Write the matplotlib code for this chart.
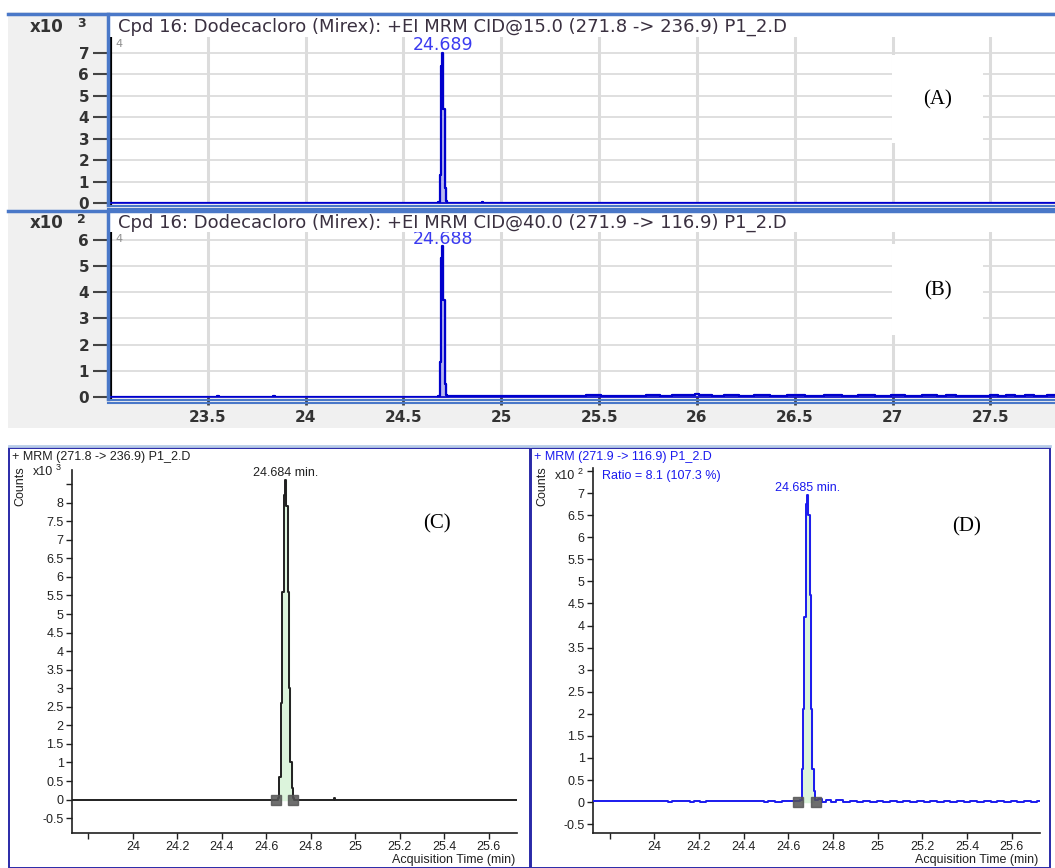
import numpy as np
import matplotlib
matplotlib.use('Agg')
import matplotlib.pyplot as plt
from matplotlib.patches import Rectangle
from matplotlib.lines import Line2D

W, H = 1055, 868

# ---------------- data ----------------
# (A) Cpd 16, CID@15.0 271.8 -> 236.9, counts x10^3
a_time = [23.0, 24.674, 24.681, 24.688, 24.694, 24.701, 24.708, 24.714, 24.721, 24.728,
          24.90, 24.903, 24.906, 27.83]
a_counts = [0, 0, 0.05, 1.3, 6.4, 7.0, 4.4, 0.7, 0.08, 0, 0, 0.06, 0, 0]
a_peak = (2, 9)
a_rt = 24.689

# (B) Cpd 16, CID@40.0 271.9 -> 116.9, counts x10^2
b_time = [23.0, 23.54, 23.55, 23.56, 23.83, 23.84, 23.85, 24.672, 24.681, 24.688, 24.694,
          24.700, 24.707, 24.714, 24.721, 24.728, 24.75, 24.78, 24.80, 24.84, 24.87, 24.90,
          24.95, 24.98, 25.05, 25.10, 25.18, 25.25, 25.33, 25.40, 25.47, 25.55, 25.62,
          25.70, 25.78, 25.84, 25.90, 25.95, 25.98, 26.00, 26.02, 26.05, 26.10, 26.18,
          26.25, 26.33, 26.42, 26.50, 26.60, 26.70, 26.78, 26.87, 26.95, 27.03, 27.10,
          27.20, 27.25, 27.30, 27.35, 27.48, 27.52, 27.56, 27.60, 27.65, 27.70, 27.75, 27.83]
b_counts = [0, 0, 0.04, 0, 0, 0.03, 0, 0, 0.05, 1.35, 5.3, 5.75, 3.7, 0.5, 0.08, 0.03,
            0.04, 0.02, 0.05, 0.02, 0.05, 0.03, 0.05, 0.02, 0.04, 0.02, 0.05, 0.02, 0.05,
            0.03, 0.06, 0.02, 0.05, 0.03, 0.06, 0.03, 0.07, 0.09, 0.06, 0.12, 0.07, 0.09,
            0.04, 0.06, 0.03, 0.06, 0.03, 0.06, 0.03, 0.06, 0.03, 0.06, 0.03, 0.06, 0.03,
            0.08, 0.04, 0.08, 0.03, 0.05, 0.08, 0.05, 0.08, 0.05, 0.08, 0.05, 0.06]
b_peak = (7, 16)
b_rt = 24.688

top_xticks = [23.5, 24, 24.5, 25, 25.5, 26, 26.5, 27, 27.5]
top_xlabels = ['23.5', '24', '24.5', '25', '25.5', '26', '26.5', '27', '27.5']

# (C) + MRM (271.8 -> 236.9), counts x10^3
c_time = [23.726, 24.650, 24.656, 24.662, 24.668, 24.675, 24.681, 24.687, 24.693, 24.699,
          24.705, 24.711, 24.717, 24.723, 24.729, 24.905, 24.908, 24.911, 25.728]
c_counts = [0, 0, 0.05, 0.6, 2.6, 5.6, 8.2, 8.6, 7.9, 5.6, 3.0, 1.0, 0.3, 0.05, 0, 0,
            0.03, 0, 0]
c_peak = (2, 13)
c_rt = 24.684
c_bounds = [24.644, 24.722]

# (D) + MRM (271.9 -> 116.9), counts x10^2
d_time = [23.726, 24.05, 24.07, 24.09, 24.15, 24.17, 24.19, 24.22, 24.24, 24.48, 24.50,
          24.52, 24.56, 24.58, 24.62, 24.650, 24.656, 24.662, 24.668, 24.674, 24.680,
          24.686, 24.692, 24.698, 24.704, 24.710, 24.716, 24.722, 24.745, 24.76, 24.78,
          24.80, 24.83, 24.86, 24.89, 24.92, 24.95, 24.98, 25.01, 25.04, 25.07, 25.10,
          25.13, 25.16, 25.19, 25.22, 25.25, 25.28, 25.31, 25.34, 25.37, 25.40, 25.43,
          25.46, 25.49, 25.52, 25.55, 25.58, 25.61, 25.64, 25.67, 25.70, 25.726]
d_counts = [0.03, 0.03, 0.0, 0.03, 0.03, 0.0, 0.03, 0.0, 0.03, 0.03, 0.0, 0.03, 0.0,
            0.03, 0.03, 0.03, 0.05, 0.75, 2.1, 4.2, 6.75, 6.95, 6.5, 4.7, 2.1, 0.75, 0.25,
            0.05, 0.07, 0.0, 0.04, 0.01, 0.04, 0.0, 0.03, 0.0, 0.03, 0.01, 0.03, 0.0, 0.03,
            0.0, 0.02, 0.0, 0.03, 0.0, 0.02, 0.0, 0.03, 0.0, 0.02, 0.0, 0.03, 0.0, 0.02,
            0.0, 0.02, 0.0, 0.02, 0.0, 0.02, 0.0, 0.02]
d_peak = (16, 27)
d_rt = 24.685
d_bounds = [24.645, 24.722]

low_xticks = [23.8, 24, 24.2, 24.4, 24.6, 24.8, 25, 25.2, 25.4, 25.6]
low_xlabels = ['', '24', '24.2', '24.4', '24.6', '24.8', '25', '25.2', '25.4', '25.6']


def box(x0, y0, x1, y1):
    return [x0 / W, 1 - y1 / H, (x1 - x0) / W, (y1 - y0) / H]


def fx(x):
    return x / W


def fy(y):
    return 1 - y / H


def hline(fig, x0, x1, y, color, lw):
    fig.add_artist(Line2D([fx(x0), fx(x1)], [fy(y), fy(y)], color=color, lw=lw))


def vline(fig, x, y0, y1, color, lw):
    fig.add_artist(Line2D([fx(x), fx(x)], [fy(y0), fy(y1)], color=color, lw=lw))


ui_font = 'DejaVu Sans'
lo_font = 'Liberation Sans'
serif = 'Liberation Serif'
frame_blue = '#4a78c8'
trace_blue = '#0000cc'
lo_size = 9

fig = plt.figure(figsize=(W / 100, H / 100), dpi=100)
fig.patch.set_facecolor('white')

# grey window background of the upper screenshot
fig.add_artist(Rectangle((fx(8), fy(428)), 1 - fx(8), (428 - 12) / H,
                         transform=fig.transFigure, facecolor='#f0f0f0', edgecolor='none', zorder=0))


def top_panel(pos, header_y, t, v, peak, rt, ymax, nticks, exp, title, show_x, tag, tag_box):
    x0, y0, x1, y1 = pos
    # header band
    fig.add_artist(Rectangle((fx(x0 - 2), fy(y0)), 1 - fx(x0 - 2), (y0 - header_y) / H,
                             transform=fig.transFigure, facecolor='white', edgecolor='none', zorder=0.5))
    hline(fig, 8, W, header_y, frame_blue, 2.5)
    vline(fig, x0 - 2, header_y, y1 + 2, frame_blue, 2.5)
    hy = (header_y + y0) / 2 + 1
    fig.text(fx(x0 + 8), fy(hy), title, fontsize=13, family=ui_font,
             color='#3a3040', va='center', ha='left')
    fig.text(fx(30), fy(hy), 'x10', fontsize=12, family=ui_font,
             color='#333333', va='center', ha='left', fontweight='bold')
    fig.text(fx(77), fy(hy - 3), exp, fontsize=9, family=ui_font,
             color='#333333', va='center', ha='left', fontweight='bold')

    ax = fig.add_axes(box(x0, y0, x1, y1))
    ax.set_facecolor('white')
    ax.plot(t, v, color=trace_blue, lw=1.6, drawstyle='steps-mid', zorder=3)
    i0, i1 = peak
    ax.fill_between(t[i0:i1], v[i0:i1], 0, step='mid', color='#b8b8ee', zorder=2)
    ax.set_xlim(23.0, 27.83)
    ax.set_ylim(0, ymax)
    ax.set_xticks(top_xticks)
    ax.set_yticks(range(nticks))
    ax.grid(True, color='#dcdcdc', lw=1.3)
    ax.xaxis.grid(True, lw=2.2)
    ax.set_axisbelow(True)
    for s in ['top', 'right']:
        ax.spines[s].set_visible(False)
    ax.spines['left'].set_color('black')
    ax.spines['left'].set_linewidth(3)
    ax.spines['bottom'].set_color(trace_blue)
    ax.spines['bottom'].set_linewidth(1.2)
    ax.tick_params(axis='y', length=12, width=1.5, color='#444444', pad=3,
                   labelsize=11, labelcolor='#333333')
    for lab in ax.get_yticklabels():
        lab.set_fontweight('bold')
        lab.set_family(ui_font)
    if show_x:
        ax.set_xticklabels(top_xlabels)
        ax.tick_params(axis='x', length=6, width=2, color='#444444', pad=3,
                       labelsize=11, labelcolor='#333333')
        for lab in ax.get_xticklabels():
            lab.set_fontweight('bold')
            lab.set_family(ui_font)
    else:
        ax.tick_params(axis='x', length=0, labelbottom=False)
    ax.text(0.006, 0.985, '4', transform=ax.transAxes, fontsize=8, color='#909090',
            family=ui_font, va='top', ha='left')
    ipk = int(np.argmax(v))
    ax.annotate(f'{rt:.3f}', (t[ipk], v[ipk]), xytext=(0, -1), textcoords='offset points',
                ha='center', va='bottom', color='#3a3af0', fontsize=12.5, family=ui_font)
    # double blue border under the plot
    hline(fig, x0 - 2, W, y1 + 3, frame_blue, 1.5)
    hline(fig, x0 - 2, W, y1 + 6, frame_blue, 1.5)
    # white label box
    bx0, by0, bx1, by1 = tag_box
    fig.add_artist(Rectangle((fx(bx0), fy(by1)), (bx1 - bx0) / W, (by1 - by0) / H,
                             transform=fig.transFigure, facecolor='white', edgecolor='none', zorder=2))
    fig.text(fx((bx0 + bx1) / 2), fy((by0 + by1) / 2 + 1), tag, fontsize=15, family=serif,
             color='black', ha='center', va='center', zorder=3)
    return ax


top_panel((110, 37, W, 203), 14, a_time, a_counts, a_peak, a_rt, 7.75, 8, '3',
          'Cpd 16: Dodecacloro (Mirex): +EI MRM CID@15.0 (271.8 -> 236.9) P1_2.D',
          False, '(A)', (892, 55, 983, 143))
top_panel((110, 232, W, 397), 211, b_time, b_counts, b_peak, b_rt, 6.3, 7, '2',
          'Cpd 16: Dodecacloro (Mirex): +EI MRM CID@40.0 (271.9 -> 116.9) P1_2.D',
          True, '(B)', (892, 244, 983, 335))


def low_panel(frame, pos, xmax, t, v, peak, rt, bounds, ylim, yticks, exp, exp_y, header,
              color, tag, tag_xy, ratio=None):
    fx0, fy0, fx1, fy1 = frame
    fig.add_artist(Rectangle((fx(fx0), fy(fy1)), (fx1 - fx0) / W, (fy1 - fy0) / H,
                             transform=fig.transFigure, facecolor='none',
                             edgecolor='#2a2aa8', lw=1.4, zorder=1))
    hline(fig, fx0, fx1, fy0 - 2, '#b8cce8', 2)
    fig.text(fx(fx0 + 3), fy(fy0 + 9), header, fontsize=lo_size, family=lo_font,
             color=color, va='center', ha='left')
    x0, y0, x1, y1 = pos
    fig.text(fx(fx0 + 11), fy(486), 'Counts', rotation=90, fontsize=lo_size, family=lo_font,
             color='#202020', va='center', ha='center')
    fig.text(fx(fx0 + 24), fy(exp_y + 2), 'x10', fontsize=lo_size, family=lo_font,
             color='#202020', va='center', ha='left')
    fig.text(fx(fx0 + 47), fy(exp_y - 2), exp, fontsize=6.5, family=lo_font,
             color='#202020', va='center', ha='left')
    if ratio:
        fig.text(fx(x0 + 9), fy(476), ratio, fontsize=lo_size, family=lo_font,
                 color=color, va='center', ha='left')

    ax = fig.add_axes(box(x0, y0, x1, y1))
    ax.set_facecolor('white')
    i0, i1 = peak
    ax.fill_between(t[i0:i1], v[i0:i1], 0, step='mid', color='#dcf4dc', zorder=2)
    ax.plot(t, v, color=color, lw=1.4, drawstyle='steps-mid', zorder=3)
    ax.plot(bounds, [0, 0], ls='none', marker='s', ms=7, color='#555555', alpha=0.85, zorder=4)
    ax.set_xlim(23.726, xmax)
    ax.set_ylim(*ylim)
    ax.set_xticks(low_xticks)
    ax.set_xticklabels(low_xlabels)
    ax.set_yticks(yticks)
    ax.set_yticklabels([f'{y:g}' for y in yticks[:-1]] + [''])
    for s in ['top', 'right']:
        ax.spines[s].set_visible(False)
    for s in ['left', 'bottom']:
        ax.spines[s].set_color('#202020')
        ax.spines[s].set_linewidth(1.2)
    ax.tick_params(length=4, width=1, color='#202020', labelsize=lo_size, pad=2,
                   labelcolor='#202020')
    for lab in ax.get_xticklabels() + ax.get_yticklabels():
        lab.set_family(lo_font)
    ipk = int(np.argmax(v))
    ax.annotate(f'{rt:.3f} min.', (t[ipk], v[ipk]), xytext=(0, 1), textcoords='offset points',
                ha='center', va='bottom', color=color, fontsize=lo_size, family=lo_font)
    fig.text(fx(x1 - 2), fy(fy1 - 8), 'Acquisition Time (min)', fontsize=lo_size, family=lo_font,
             color='#202020', ha='right', va='center')
    fig.text(fx(tag_xy[0]), fy(tag_xy[1]), tag, fontsize=15, family=serif, color='black',
             ha='center', va='center')
    return ax


low_panel((9, 448, 530, 868), (72, 470, 517, 833), 25.728, c_time, c_counts, c_peak, c_rt,
          c_bounds, (-0.9, 8.88), list(np.arange(-0.5, 8.51, 0.5)), '3', 470,
          '+ MRM (271.8 -> 236.9) P1_2.D', '#202020', '(C)', (437, 524))
low_panel((531, 448, 1050, 868), (593, 468, 1040, 833), 25.726, d_time, d_counts, d_peak, d_rt,
          d_bounds, (-0.70, 7.57), list(np.arange(-0.5, 7.51, 0.5)), '2', 474,
          '+ MRM (271.9 -> 116.9) P1_2.D', '#1a1aee', '(D)', (967, 527),
          ratio='Ratio = 8.1 (107.3 %)')

fig.savefig('out.png', dpi=100)
